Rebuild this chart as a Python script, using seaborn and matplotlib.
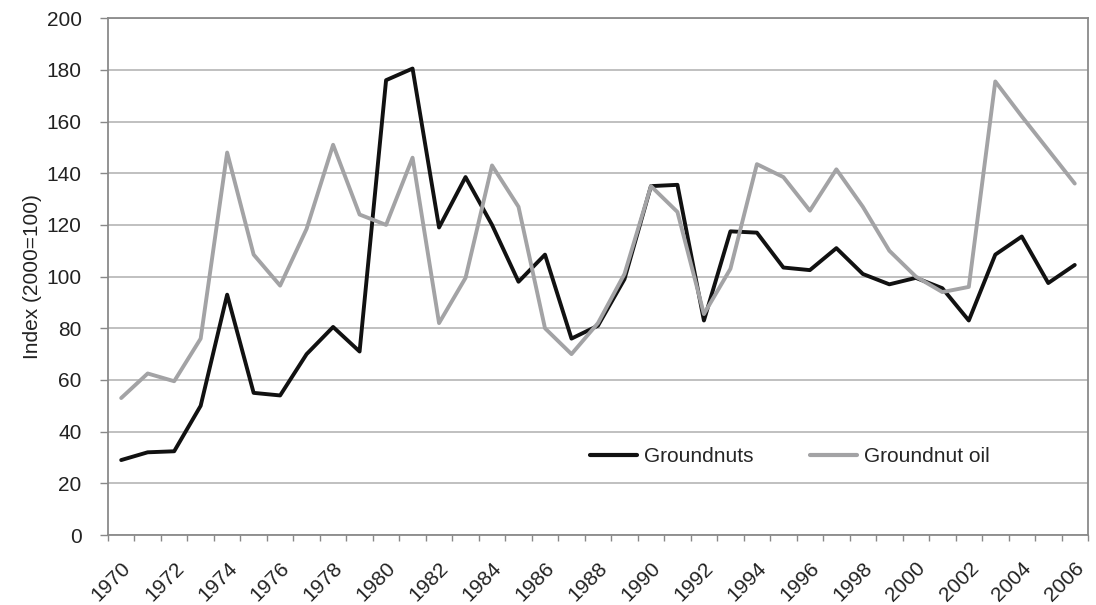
import numpy as np
import pandas as pd
import seaborn as sns
import matplotlib
matplotlib.use("Agg")
import matplotlib.pyplot as plt
from matplotlib.ticker import FixedLocator

years = list(range(1970, 2007))
groundnuts = [29, 32, 32.4, 50, 93, 55, 54, 70, 80.5, 71, 176, 180.5, 119, 138.5,
              120, 98, 108.5, 76, 81, 99, 135, 135.5, 83, 117.5, 117, 103.5, 102.5,
              111, 101, 97, 99.5, 95.5, 83, 108.5, 115.5, 97.5, 104.5]
groundnut_oil = [53, 62.5, 59.5, 76, 148, 108.5, 96.5, 118.5, 151, 124, 120, 146,
                 82, 99.5, 143, 127, 80, 70, 82, 101, 135, 125, 85.5, 103, 143.5,
                 138.5, 125.5, 141.5, 127, 110, 100, 94, 96, 175.5, 162, 149, 136]
series_names = ["Groundnuts", "Groundnut oil"]
y_label = "Index (2000=100)"

df = pd.DataFrame({"Year": years * 2,
                   "Value": groundnuts + groundnut_oil,
                   "Series": [series_names[0]] * len(years) + [series_names[1]] * len(years)})

sns.set_theme(style="white")
plt.rcParams['font.family'] = ['Liberation Sans', 'DejaVu Sans']

fig = plt.figure(figsize=(10.96, 6.05), dpi=100)
ax = fig.add_axes([0.0985, 0.1157, 0.8942, 0.8543])

sns.lineplot(data=df, x="Year", y="Value", hue="Series",
             palette={series_names[0]: "#111111", series_names[1]: "#a3a3a5"},
             linewidth=2.8, ax=ax, legend=True)

ax.set_xlim(1969.5, 2006.5)
ax.set_ylim(0, 200)
ax.set_yticks(np.arange(0, 201, 20))
ax.yaxis.grid(True, color="#b5b5b5", linewidth=1.2)
ax.set_axisbelow(True)

ax.set_xticks(years[::2])
ax.set_xticklabels([str(y) for y in years[::2]], rotation=45, ha="right",
                   rotation_mode="anchor", fontsize=15, color="#222222")
ax.xaxis.set_minor_locator(FixedLocator(np.arange(1969.5, 2007, 1)))
ax.tick_params(axis="x", which="major", length=0, pad=17)
ax.tick_params(axis="x", which="minor", length=4.5, color="#888888", width=1, direction="out", bottom=True)
ax.tick_params(axis="y", which="major", length=6, color="#888888", width=1, direction="out",
               left=True, labelsize=15, labelcolor="#222222", pad=13)

for s in ax.spines.values():
    s.set_color("#8a8a8a")
    s.set_linewidth(1.3)

ax.set_xlabel("")
ax.set_ylabel(y_label, fontsize=15, color="#222222", labelpad=3)

leg = ax.legend(loc="center left", bbox_to_anchor=(0.473, 0.151), ncol=2, frameon=False,
                fontsize=15, handlelength=2.25, columnspacing=2.7, handletextpad=0.33)
for line in leg.get_lines():
    line.set_linewidth(3.0)

fig.savefig("out.png", dpi=100)
